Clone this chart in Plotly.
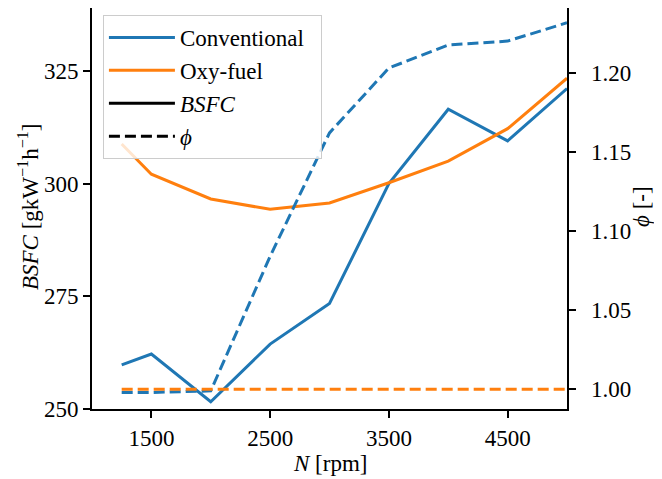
import plotly.graph_objects as go

speeds = [1250, 1500, 2000, 2500, 3000, 3500, 4000, 4500, 5000]
bsfc_conv = [259.8, 262.2, 251.6, 264.4, 273.4, 300.0, 316.5, 309.5, 321.1]
bsfc_oxy = [308.8, 302.1, 296.6, 294.3, 295.7, 300.2, 305.0, 312.2, 323.4]
phi_conv = [0.998, 0.998, 0.999, 1.084, 1.162, 1.203, 1.2175, 1.220, 1.2316]
phi_oxy = [1.0, 1.0, 1.0, 1.0, 1.0, 1.0, 1.0, 1.0, 1.0]

x_ticks = [1500, 2500, 3500, 4500]
bsfc_ticks = [250, 275, 300, 325]
phi_ticks = [1.00, 1.05, 1.10, 1.15, 1.20]
phi_labels = ["1.00", "1.05", "1.10", "1.15", "1.20"]

blue = "#1f77b4"
orange = "#ff7f0e"
FONT = "Liberation Serif, Times New Roman, serif"
FS = 23
dash = "11px,5px"

fig = go.Figure()
fig.add_trace(go.Scatter(x=speeds, y=bsfc_conv, mode="lines", name="Conventional\u00a0\u00a0",
                         line=dict(color=blue, width=3)))
fig.add_trace(go.Scatter(x=speeds, y=bsfc_oxy, mode="lines", name="Oxy-fuel",
                         line=dict(color=orange, width=3)))
fig.add_trace(go.Scatter(x=[None], y=[None], mode="lines", name="<i>BSFC</i>",
                         line=dict(color="black", width=3)))
fig.add_trace(go.Scatter(x=[None], y=[None], mode="lines", name="<i>ϕ</i>",
                         line=dict(color="black", width=3, dash=dash)))
fig.add_trace(go.Scatter(x=speeds, y=phi_conv, mode="lines", yaxis="y2", showlegend=False,
                         line=dict(color=blue, width=3, dash=dash)))
fig.add_trace(go.Scatter(x=speeds, y=phi_oxy, mode="lines", yaxis="y2", showlegend=False,
                         line=dict(color=orange, width=3, dash=dash)))

axis_common = dict(showgrid=False, zeroline=False, showline=True, linecolor="black",
                   linewidth=2, ticks="outside", ticklen=7, tickwidth=1.5, tickcolor="black",
                   automargin=False,
                   tickfont=dict(family=FONT, size=FS, color="black"))

fig.update_layout(
    width=662, height=479,
    margin=dict(l=84, r=103, t=0, b=78),
    plot_bgcolor="white", paper_bgcolor="white",
    font=dict(family=FONT, size=FS, color="black"),
    xaxis=dict(range=[1000, 5000], tickvals=x_ticks, mirror=True, **axis_common),
    yaxis=dict(range=[250, 338.97], tickvals=bsfc_ticks, **axis_common),
    yaxis2=dict(range=[0.98756, 1.2409], overlaying="y", side="right",
                tickvals=phi_ticks, ticktext=["\u00a0\u2009" + t for t in phi_labels],
                **axis_common),
    legend=dict(x=0.023, y=0.9825, xanchor="left", yanchor="top",
                bgcolor="rgba(255,255,255,0.8)", bordercolor="#cccccc", borderwidth=1,
                font=dict(family=FONT, size=FS, color="black"), itemwidth=66, tracegroupgap=0),
    annotations=[
        dict(text="<i>N</i> [rpm]", x=0.5, y=-0.1347, xref="paper", yref="paper",
             showarrow=False, xanchor="center", yanchor="middle",
             font=dict(family=FONT, size=FS, color="black")),
        dict(text="<i>BSFC</i> [gkW<sup>−1</sup>h<sup>−1</sup>]", x=-0.1347, y=0.5037,
             xref="paper", yref="paper", showarrow=False, textangle=-90,
             xanchor="center", yanchor="middle",
             font=dict(family=FONT, size=FS, color="black")),
        dict(text="<i>ϕ</i> [-]", x=1.1558, y=0.5037, xref="paper", yref="paper",
             showarrow=False, textangle=-90, xanchor="center", yanchor="middle",
             font=dict(family=FONT, size=FS, color="black")),
    ],
)

fig.write_html("out.html")
